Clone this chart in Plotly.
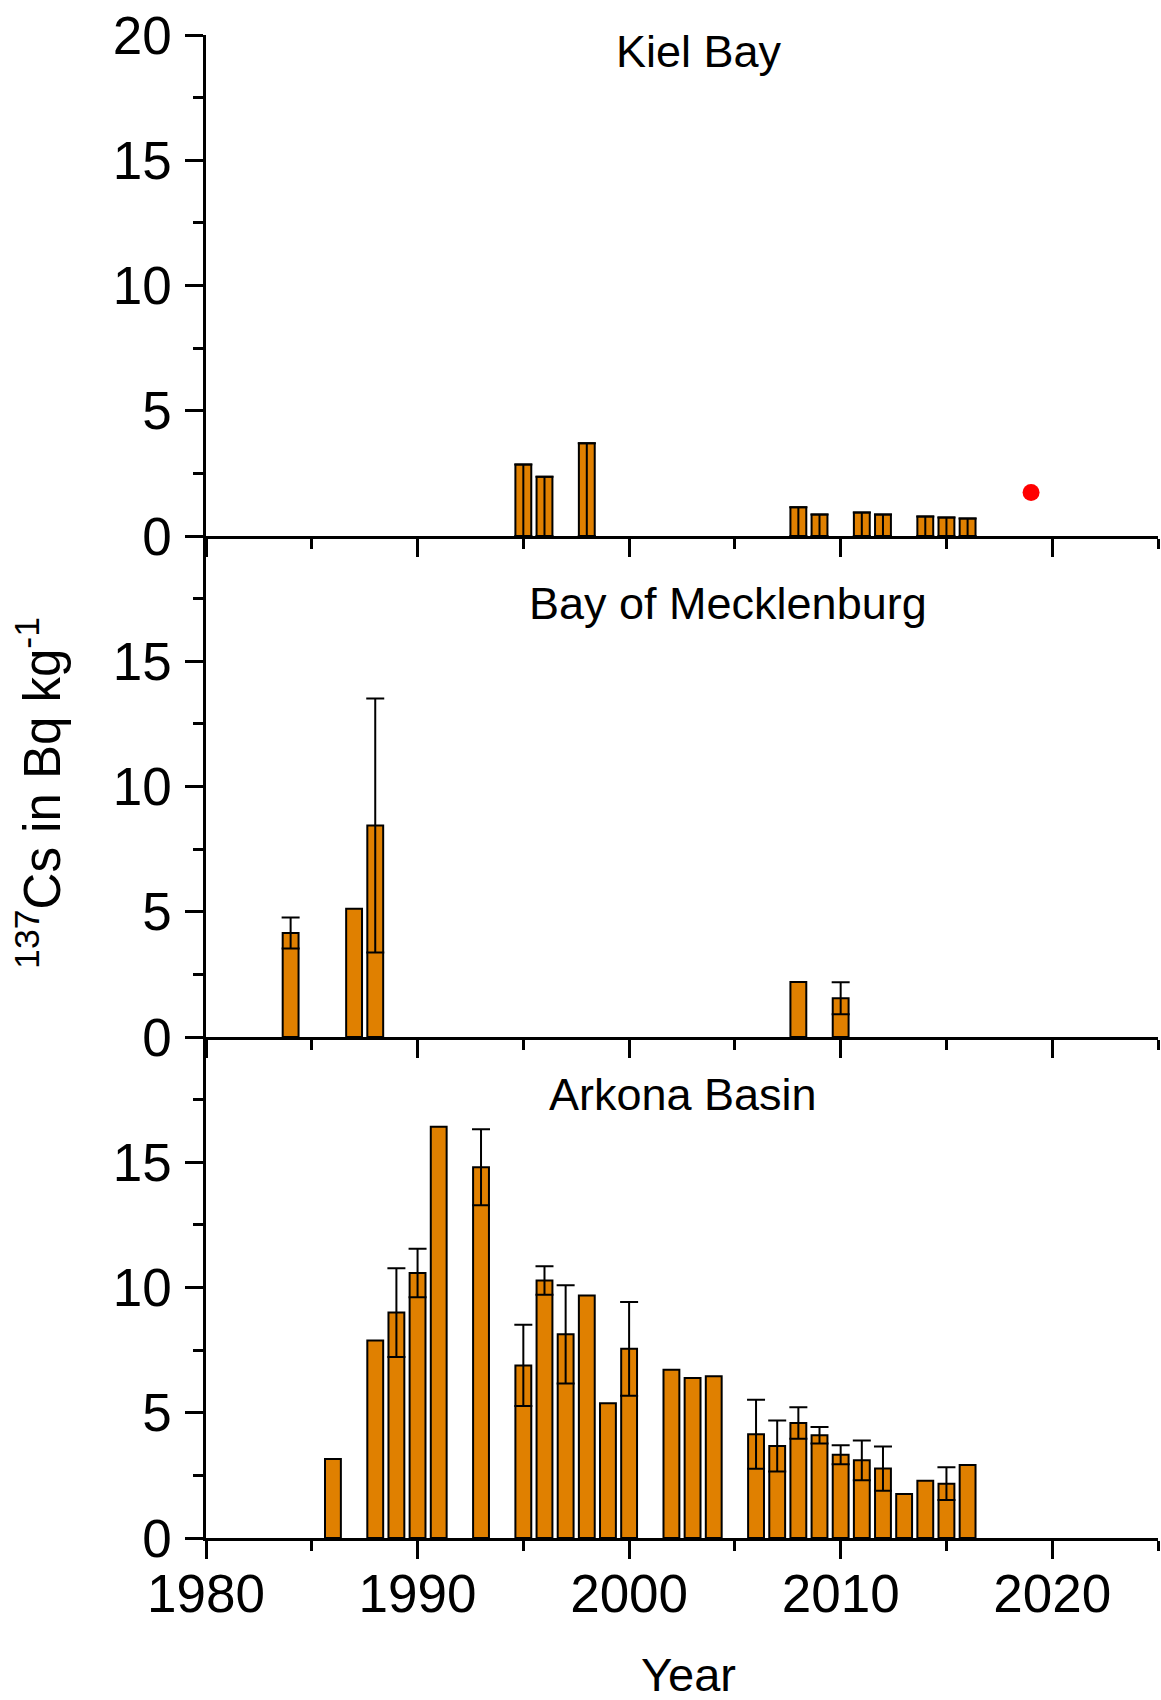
import plotly.graph_objects as go

# ---------------- data ----------------
# Kiel Bay
kiel_years = [1995, 1996, 1998, 2008, 2009, 2011, 2012, 2014, 2015, 2016]
kiel_vals = [2.85, 2.37, 3.70, 1.15, 0.86, 0.94, 0.86, 0.78, 0.74, 0.70]
kiel_point_year = [2019]
kiel_point_val = [1.74]

# Bay of Mecklenburg
meck_years = [1984, 1987, 1988, 2008, 2010]
meck_vals = [4.15, 5.12, 8.44, 2.20, 1.55]
meck_err = [0.62, None, 5.07, None, 0.64]

# Arkona Basin
ark_years = [1986, 1988, 1989, 1990, 1991, 1993, 1995, 1996, 1997, 1998, 1999,
             2000, 2002, 2003, 2004, 2006, 2007, 2008, 2009, 2010, 2011, 2012,
             2013, 2014, 2015, 2016]
ark_vals = [3.15, 7.88, 9.00, 10.58, 16.42, 14.80, 6.89, 10.28, 8.13, 9.68, 5.38,
            7.55, 6.72, 6.39, 6.46, 4.14, 3.67, 4.59, 4.10, 3.32, 3.10, 2.77,
            1.76, 2.29, 2.17, 2.91]
ark_err = [None, None, 1.77, 0.97, None, 1.52, 1.62, 0.57, 1.96, None, None,
           1.87, None, None, None, 1.38, 1.02, 0.63, 0.33, 0.38, 0.79, 0.88,
           None, None, 0.65, None]

panel_titles = ["Kiel Bay", "Bay of Mecklenburg", "Arkona Basin"]
x_major = [1980, 1990, 2000, 2010, 2020]
x_minor = [1985, 1995, 2005, 2015, 2025]

# ---------------- styles ----------------
BAR_COLOR = "#E08000"
FONT = "Liberation Sans, Arial, sans-serif"
LW = 2.5

fig = go.Figure()


def add_bars(years, vals, ax):
    fig.add_trace(go.Bar(
        x=years, y=vals, width=0.75,
        marker=dict(color=BAR_COLOR, line=dict(color="black", width=2)),
        xaxis="x" + ax, yaxis="y" + ax, showlegend=False))


def add_err(years, vals, up, down, ax):
    fig.add_trace(go.Scatter(
        x=years, y=vals, mode="markers",
        marker=dict(size=1, color="rgba(0,0,0,0)"),
        error_y=dict(type="data", symmetric=False, array=up, arrayminus=down,
                     color="black", thickness=2, width=9),
        xaxis="x" + ax, yaxis="y" + ax, showlegend=False, cliponaxis=False))


# Kiel Bay (top)
add_bars(kiel_years, kiel_vals, "")
add_err(kiel_years, kiel_vals, [0] * len(kiel_vals), kiel_vals, "")
fig.add_trace(go.Scatter(x=kiel_point_year, y=kiel_point_val, mode="markers",
                         marker=dict(size=17, color="#FF0000"),
                         showlegend=False))

# Mecklenburg (middle)
add_bars(meck_years, meck_vals, "2")
mx = [x for x, e in zip(meck_years, meck_err) if e is not None]
my = [v for v, e in zip(meck_vals, meck_err) if e is not None]
me = [e for e in meck_err if e is not None]
add_err(mx, my, me, me, "2")

# Arkona (bottom)
add_bars(ark_years, ark_vals, "3")
axx = [x for x, e in zip(ark_years, ark_err) if e is not None]
ayy = [v for v, e in zip(ark_vals, ark_err) if e is not None]
aee = [e for e in ark_err if e is not None]
add_err(axx, ayy, aee, aee, "3")

common_x = dict(range=[1980, 2025], showline=True, linecolor="black", linewidth=LW,
                ticks="outside", tickmode="array", tickvals=x_major,
                ticklen=18, tickwidth=LW, tickcolor="black",
                minor=dict(tickmode="array", tickvals=x_minor, ticks="outside",
                           ticklen=10, tickwidth=LW, tickcolor="black"),
                showgrid=False, zeroline=False, automargin=False,
                ticklabelstandoff=-10,
                tickfont=dict(family=FONT, size=53, color="black"))

common_y = dict(range=[0, 20], showline=True, linecolor="black", linewidth=LW,
                ticks="outside", tickmode="array",
                ticklen=18, tickwidth=LW, tickcolor="black",
                minor=dict(tickmode="array", tickvals=[2.5, 7.5, 12.5, 17.5],
                           ticks="outside", ticklen=10, tickwidth=LW,
                           tickcolor="black"),
                showgrid=False, zeroline=False, automargin=False,
                ticklabelstandoff=3,
                tickfont=dict(family=FONT, size=53, color="black"))

fig.update_layout(
    width=1161, height=1700,
    margin=dict(l=206, r=3, t=35, b=162),
    paper_bgcolor="white", plot_bgcolor="white",
    barmode="overlay",
    xaxis=dict(common_x, anchor="y", showticklabels=False),
    xaxis2=dict(common_x, anchor="y2", matches="x", showticklabels=False),
    xaxis3=dict(common_x, anchor="y3", matches="x", showticklabels=True),
    yaxis=dict(common_y, domain=[2 / 3, 1], anchor="x",
               tickvals=[0, 5, 10, 15, 20]),
    yaxis2=dict(common_y, domain=[1 / 3, 2 / 3], anchor="x2",
                tickvals=[0, 5, 10, 15]),
    yaxis3=dict(common_y, domain=[0, 1 / 3], anchor="x3",
                tickvals=[0, 5, 10, 15]),
    font=dict(family=FONT, color="black"),
)

title_pos = [(2003.3, 19.35, "x", "y"), (2004.66, 17.31, "x2", "y2"),
             (2002.55, 17.7, "x3", "y3")]
for (tx, ty, xr, yr), t in zip(title_pos, panel_titles):
    fig.add_annotation(x=tx, y=ty, xref=xr, yref=yr, text=t, showarrow=False,
                       xanchor="center", yanchor="middle",
                       font=dict(family=FONT, size=45, color="black"))

fig.add_annotation(x=-0.176, y=0.496, xref="paper", yref="paper",
                   text="<sup>137</sup>Cs in Bq kg<sup>-1</sup>", textangle=-90,
                   showarrow=False, xanchor="center", yanchor="middle",
                   font=dict(family=FONT, size=51, color="black"))
fig.add_annotation(x=0.5066, y=-0.0905, xref="paper", yref="paper",
                   text="Year", showarrow=False, xanchor="center",
                   yanchor="middle",
                   font=dict(family=FONT, size=47, color="black"))

# remove the browser's default page margin so the figure sits at (0, 0)
fig.write_html(
    "out.html",
    config={"displayModeBar": False},
    post_script="document.body.style.margin='0';"
                "document.body.style.overflow='hidden';",
)
